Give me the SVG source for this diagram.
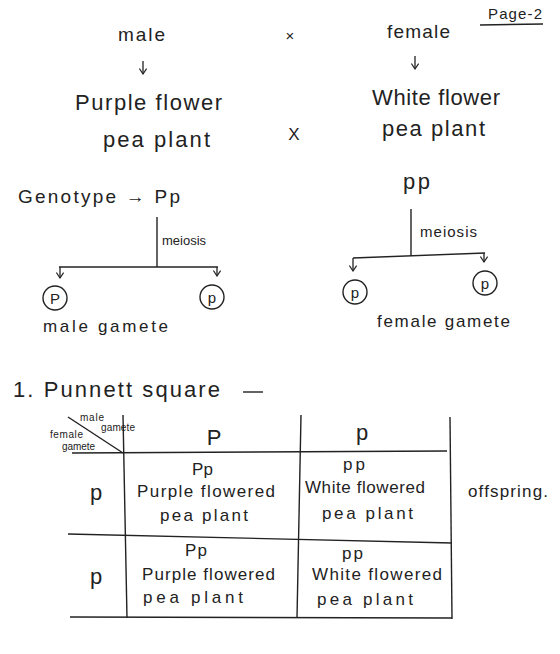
<svg xmlns="http://www.w3.org/2000/svg" width="560" height="654" viewBox="0 0 560 654">
<defs>
<marker id="ah" viewBox="0 0 10 10" refX="9" refY="5" markerWidth="9" markerHeight="9" orient="auto" markerUnits="userSpaceOnUse">
<path d="M3,1 L9,5 L3,9" fill="none" stroke="#222" stroke-width="1.3"/>
</marker>
<style>
text{font-family:"Liberation Sans","DejaVu Sans",sans-serif;fill:#222;}
.t{font-size:22px;}
.n{font-size:19px;}
.c{font-size:17px;}
.m{font-size:15px;}
.k{font-size:13px;}
.s{font-size:10px;}
.l{stroke:#222;stroke-width:1.4;fill:none;}
.a{stroke:#222;stroke-width:1.3;fill:none;marker-end:url(#ah);}
</style>
</defs>
<rect width="560" height="654" fill="#fff"/>
<g id="page">
<text x="488" y="19" class="m" textLength="54">Page-2</text>
<line class="l" x1="480" y1="25" x2="543" y2="24"/>
</g>
<g id="male"><text x="118" y="41" class="n" textLength="47">male</text></g>
<g id="cross1"><text x="290" y="41" class="m" text-anchor="middle">×</text></g>
<g id="female"><text x="387" y="38" class="n" textLength="63">female</text></g>
<g id="purple-parent">
<text x="75" y="110" class="t" textLength="147">Purple flower</text>
<text x="103" y="147" class="t" textLength="107">pea plant</text>
</g>
<g id="cross2"><text x="294" y="140" class="c" text-anchor="middle">X</text></g>
<g id="white-parent">
<text x="372" y="105" class="t" textLength="128">White flower</text>
<text x="382" y="136" class="t" textLength="103">pea plant</text>
</g>
<g id="genotype-left"><text x="18" y="203" class="n" textLength="162">Genotype → Pp</text></g>
<g id="genotype-right"><text x="403" y="189" class="t" textLength="27">pp</text></g>
<g id="meiosis-left-label"><text x="162" y="245" class="k" textLength="44">meiosis</text></g>
<g id="meiosis-right-label"><text x="420" y="237" class="m" textLength="57">meiosis</text></g>
<g id="gamete-m1"><circle class="l" cx="55" cy="298" r="12"/><text x="55" y="304" class="m" text-anchor="middle">P</text></g>
<g id="gamete-m2"><circle class="l" cx="212" cy="297" r="12"/><text x="212" y="303" class="m" text-anchor="middle">p</text></g>
<g id="gamete-f1"><circle class="l" cx="355" cy="292" r="12"/><text x="355" y="298" class="m" text-anchor="middle">p</text></g>
<g id="gamete-f2"><circle class="l" cx="485" cy="283" r="12"/><text x="485" y="289" class="m" text-anchor="middle">p</text></g>
<g id="male-gamete-label"><text x="43" y="332" class="c" textLength="125">male gamete</text></g>
<g id="female-gamete-label"><text x="377" y="327" class="c" textLength="133">female gamete</text></g>
<g id="connectors">
<line class="a" x1="143" y1="61" x2="143" y2="74"/>
<line class="a" x1="415" y1="56" x2="415" y2="69"/>
<line class="l" x1="157" y1="217" x2="157" y2="267"/>
<line class="l" x1="59" y1="267" x2="218" y2="267"/>
<line class="a" x1="60" y1="267" x2="60" y2="278"/>
<line class="a" x1="217" y1="267" x2="217" y2="276"/>
<line class="l" x1="411" y1="209" x2="411" y2="256"/>
<line class="l" x1="353" y1="258" x2="485" y2="253"/>
<line class="a" x1="353" y1="258" x2="353" y2="271"/>
<line class="a" x1="484" y1="253" x2="484" y2="262"/>
</g>
<g id="title"><text x="13" y="397" class="t" textLength="207">1. Punnett square</text>
<line class="l" x1="243" y1="392" x2="263" y2="392"/></g>
<g id="punnett-grid">
<line class="l" x1="123" y1="415" x2="127" y2="618"/>
<line class="l" x1="301" y1="415" x2="297" y2="618"/>
<line class="l" x1="450" y1="417" x2="452" y2="619"/>
<line class="l" x1="72" y1="453" x2="447" y2="451"/>
<line class="l" x1="68" y1="534" x2="452" y2="543"/>
<line class="l" x1="70" y1="617" x2="452" y2="618"/>
<line class="l" x1="68" y1="417" x2="123" y2="453"/>
</g>
<g id="corner-labels">
<text x="80" y="421" class="s" textLength="24">male</text>
<text x="101" y="431" class="s" textLength="34">gamete</text>
<text x="50" y="438" class="s" textLength="33">female</text>
<text x="62" y="450" class="s" textLength="33">gamete</text>
</g>
<g id="col-P"><text x="214" y="445" class="t" text-anchor="middle">P</text></g>
<g id="col-p"><text x="362" y="440" class="t" text-anchor="middle">p</text></g>
<g id="row1-p"><text x="96" y="500" class="t" text-anchor="middle">p</text></g>
<g id="row2-p"><text x="96" y="584" class="t" text-anchor="middle">p</text></g>
<g id="cell-11">
<text x="192" y="475" class="c" textLength="21">Pp</text>
<text x="137" y="497" class="c" textLength="138">Purple flowered</text>
<text x="160" y="521" class="c" textLength="88">pea plant</text>
</g>
<g id="cell-12">
<text x="343" y="470" class="c" textLength="22">pp</text>
<text x="305" y="493" class="c" textLength="120">White flowered</text>
<text x="322" y="519" class="c" textLength="91">pea plant</text>
</g>
<g id="cell-21">
<text x="185" y="556" class="c" textLength="22">Pp</text>
<text x="142" y="580" class="c" textLength="133">Purple flowered</text>
<text x="143" y="603" class="c" textLength="100">pea plant</text>
</g>
<g id="cell-22">
<text x="342" y="559" class="c" textLength="21">pp</text>
<text x="312" y="580" class="c" textLength="130">White flowered</text>
<text x="317" y="605" class="c" textLength="96">pea plant</text>
</g>
<g id="offspring"><text x="468" y="497" class="c" textLength="80">offspring.</text></g>
</svg>
